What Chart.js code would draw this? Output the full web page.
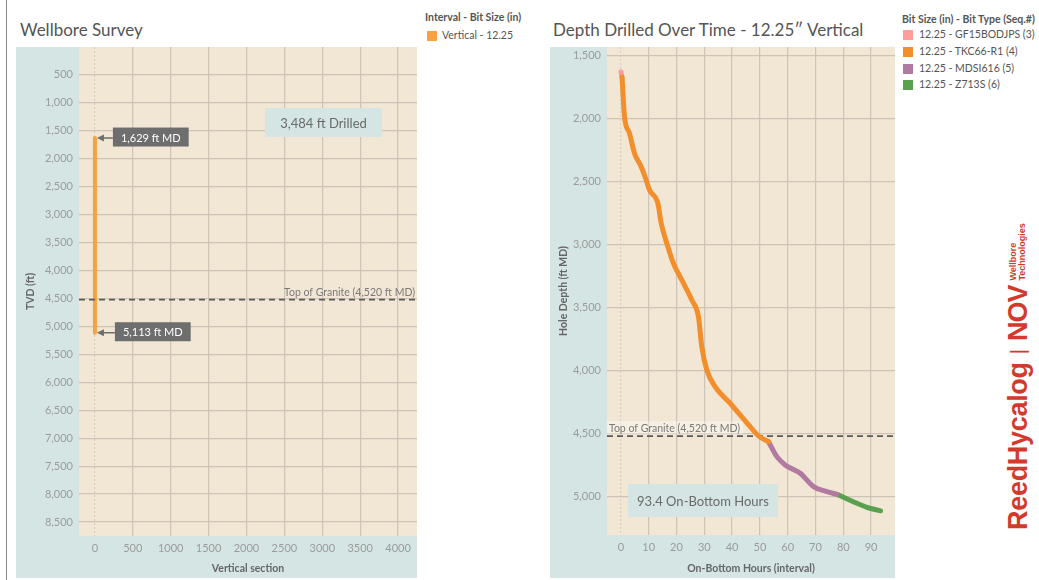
<!DOCTYPE html>
<html>
<head>
<meta charset="utf-8">
<script src="https://cdn.jsdelivr.net/npm/chart.js@4.4.1/dist/chart.umd.min.js"></script>
<style>
  body { margin: 0; width: 1039px; height: 580px; background: #fff; position: relative; overflow: hidden; font-family: Lato, sans-serif; }
  .abs { position: absolute; white-space: nowrap; }
  canvas { position: absolute; background: #d4e5e4; }
  .title { font-size: 17px; color: #555; }
  .lgHead { font-size: 10.5px; color: #555; font-weight: bold; }
  .lgItem { font-size: 10.5px; color: #555; }
  .sw { position: absolute; width: 10px; height: 10px; }
  #logo { left: 863px; top: 360px; width: 310px; height: 30px; transform: rotate(-90deg); transform-origin: center; color: #d23a2e; font-family: "Liberation Sans", Arial, sans-serif; display: flex; align-items: center; }
</style>
</head>
<body>
<div class="abs" style="left:6px;top:0;width:1px;height:580px;background:#8a8a8a"></div>

<div class="abs title" style="left:20px;top:19px">Wellbore Survey</div>
<div class="abs title" style="left:553px;top:19px">Depth Drilled Over Time - 12.25″ Vertical</div>

<canvas id="survey" width="401" height="531" style="left:16px;top:47px"></canvas>
<canvas id="depth" width="345" height="531" style="left:550px;top:47px"></canvas>

<div class="abs lgHead" style="left:425px;top:11px">Interval - Bit Size (in)</div>
<div class="sw" style="left:427px;top:31px;background:#f9a03f"></div>
<div class="abs lgItem" style="left:442px;top:29px">Vertical - 12.25</div>

<div class="abs lgHead" style="left:902px;top:13px">Bit Size (in) - Bit Type (Seq.#)</div>
<div class="sw" style="left:903px;top:30px;background:#ff9d9a"></div>
<div class="abs lgItem" style="left:919px;top:28px">12.25 - GF15BODJPS (3)</div>
<div class="sw" style="left:903px;top:47px;background:#f28e2b"></div>
<div class="abs lgItem" style="left:919px;top:45px">12.25 - TKC66-R1 (4)</div>
<div class="sw" style="left:903px;top:64px;background:#b07aa1"></div>
<div class="abs lgItem" style="left:919px;top:62px">12.25 - MDSI616 (5)</div>
<div class="sw" style="left:903px;top:80px;background:#59a14f"></div>
<div class="abs lgItem" style="left:919px;top:78px">12.25 - Z713S (6)</div>

<div class="abs" id="logo">
  <span style="font-size:27px;font-weight:bold;letter-spacing:-0.3px">ReedHycalog</span>
  <span style="font-size:20px;margin:0 8px">|</span>
  <span style="font-size:27px;font-weight:900;letter-spacing:-1px">NOV</span>
  <span style="font-size:9px;font-weight:bold;line-height:9px;margin-left:5px">Wellbore<br>Technologies</span>
</div>

<script>
// ---- Wellbore Survey data ----
const surveyVS = [0, 0];
const surveyTVD = [1629, 5113];
const vsTicks = [0, 500, 1000, 1500, 2000, 2500, 3000, 3500, 4000];
const tvdTicks = [500, 1000, 1500, 2000, 2500, 3000, 3500, 4000, 4500, 5000, 5500, 6000, 6500, 7000, 7500, 8000, 8500];
const graniteTop = 4520;

// ---- Depth drilled over time, one pair of arrays per bit run ----
const gfHours = [0, 0.4];
const gfDepth = [1629, 1668];
const tkcHours = [0.4, 1.3, 3.1, 4.9, 7.3, 9.1, 10.3, 13.3, 14.5, 16.9, 18.9, 21.9, 25.5, 27.9, 29.1, 30.9, 33.9, 39.3, 46.5, 49.6, 53.1];
const tkcDepth = [1668, 1984, 2116, 2275, 2381, 2487, 2566, 2672, 2830, 3016, 3148, 3280, 3439, 3572, 3810, 3995, 4127, 4259, 4445, 4520, 4564];
const mdsHours = [53.1, 56.1, 59.1, 64.5, 69.3, 74.1, 77.7];
const mdsDepth = [4564, 4683, 4749, 4815, 4921, 4961, 4982];
const zHours = [77.7, 83.6, 88.5, 93.4];
const zDepth = [4982, 5041, 5085, 5113];
const hourTicks = [0, 10, 20, 30, 40, 50, 60, 70, 80, 90];
const depthTicks = [1500, 2000, 2500, 3000, 3500, 4000, 4500, 5000];

Chart.defaults.font.family = 'Lato';
Chart.defaults.color = '#9b9b9b';

const beige = '#f2e7d5';
const gridCol = '#cdc4b8';

function pts(xs, ys) {
  return xs.map((x, i) => ({ x: x, y: ys[i] }));
}
function fmt(v) { return v.toLocaleString('en-US'); }

const plotBg = {
  id: 'plotBg',
  beforeDraw(chart) {
    const a = chart.chartArea, c = chart.ctx;
    c.save();
    c.fillStyle = beige;
    c.fillRect(a.left, a.top, a.right - a.left, a.bottom - a.top);
    c.restore();
  }
};

function graniteLine(chart) {
  const a = chart.chartArea, c = chart.ctx;
  const y = chart.scales.y.getPixelForValue(graniteTop);
  c.save();
  c.strokeStyle = '#5a5a5a';
  c.lineWidth = 1.6;
  c.setLineDash([6, 4]);
  c.beginPath(); c.moveTo(a.left, y); c.lineTo(a.right, y); c.stroke();
  c.restore();
  return y;
}

function textBox(c, x, y, w, h, text) {
  c.save();
  c.fillStyle = '#d4e5e4';
  c.fillRect(x, y, w, h);
  c.fillStyle = '#6a6a6a';
  c.font = '13px Lato';
  c.textAlign = 'center';
  c.textBaseline = 'middle';
  c.fillText(text, x + w / 2, y + h / 2 + 1);
  c.restore();
}

function callout(c, px, py, text, gap) {
  c.save();
  c.font = '11px Lato';
  const w = c.measureText(text).width + 16, h = 19;
  const bx = px + gap;
  c.fillStyle = '#6e6e6e';
  c.strokeStyle = '#6e6e6e';
  c.fillRect(bx, py - h / 2 - 1, w, h);
  c.lineWidth = 1.5;
  c.beginPath(); c.moveTo(bx, py); c.lineTo(px + 7, py); c.stroke();
  c.beginPath(); c.moveTo(px + 2, py); c.lineTo(px + 9, py - 3.5); c.lineTo(px + 9, py + 3.5); c.closePath(); c.fill();
  c.fillStyle = '#fff';
  c.textAlign = 'center';
  c.textBaseline = 'middle';
  c.fillText(text, bx + w / 2, py);
  c.restore();
}

const surveyNotes = {
  id: 'surveyNotes',
  afterDatasetsDraw(chart) {
    const a = chart.chartArea, c = chart.ctx;
    const sx = chart.scales.x, sy = chart.scales.y;
    const y = graniteLine(chart);
    c.save();
    c.font = '10.5px Lato';
    c.fillStyle = '#7a7a7a';
    c.textAlign = 'right';
    c.textBaseline = 'middle';
    c.fillText('Top of Granite (' + fmt(graniteTop) + ' ft MD)', a.right - 2, y - 7);
    c.restore();
    callout(c, sx.getPixelForValue(surveyVS[0]), sy.getPixelForValue(surveyTVD[0]), fmt(surveyTVD[0]) + ' ft MD', 18);
    callout(c, sx.getPixelForValue(surveyVS[1]), sy.getPixelForValue(surveyTVD[1]), fmt(surveyTVD[1]) + ' ft MD', 20);
    textBox(c, a.left + 186, a.top + 61, 117, 29, fmt(surveyTVD[1] - surveyTVD[0]) + ' ft Drilled');
  }
};

const depthNotes = {
  id: 'depthNotes',
  beforeDatasetsDraw(chart) {
    graniteLine(chart);
  },
  afterDatasetsDraw(chart) {
    const a = chart.chartArea, c = chart.ctx;
    const y = chart.scales.y.getPixelForValue(graniteTop);
    const label = 'Top of Granite (' + fmt(graniteTop) + ' ft MD)';
    c.save();
    c.font = '10.5px Lato';
    const w = c.measureText(label).width;
    c.fillStyle = 'rgba(255,255,255,0.35)';
    c.fillRect(a.left, y - 15, w + 5, 13);
    c.fillStyle = '#7a7a7a';
    c.textAlign = 'left';
    c.textBaseline = 'middle';
    c.fillText(label, a.left + 2, y - 8);
    c.restore();
    textBox(c, a.left + 21, a.top + 437, 150, 33, zHours[zHours.length - 1] + ' On-Bottom Hours');
  }
};

function axisSize(size, vertical) {
  return function (s) {
    if (vertical) s.width = size; else s.height = size;
    s.paddingTop = 0; s.paddingBottom = 0; s.paddingLeft = 0; s.paddingRight = 0;
  };
}
function useTicks(list) {
  return function (s) { s.ticks = list.map(v => ({ value: v })); };
}
const zeroDotted = {
  color: ctx => (ctx.tick && ctx.tick.value === 0) ? '#d9cfc2' : gridCol,
  lineWidth: 1.2,
  drawTicks: false
};
function axisTitle(text, pad) {
  return { display: true, text: text, color: '#666', font: { size: 10.5, weight: 'bold' }, padding: pad };
}

new Chart(document.getElementById('survey'), {
  type: 'scatter',
  data: {
    datasets: [{
      data: pts(surveyVS, surveyTVD),
      showLine: true,
      borderColor: '#f9a03f',
      borderWidth: 4,
      borderCapStyle: 'round',
      pointRadius: 0
    }]
  },
  options: {
    responsive: false,
    animation: false,
    layout: { padding: 0 },
    plugins: { legend: { display: false }, tooltip: { enabled: false } },
    scales: {
      x: {
        type: 'linear', min: -210, max: 4250,
        afterBuildTicks: useTicks(vsTicks),
        afterFit: axisSize(42, false),
        grid: zeroDotted,
        border: { display: false, dash: ctx => (ctx.tick && ctx.tick.value === 0) ? [2, 2] : [] },
        ticks: { padding: 6, font: { size: 11 }, callback: v => String(v) },
        title: axisTitle('Vertical section', { top: 0, bottom: 3 })
      },
      y: {
        type: 'linear', reverse: true, min: 0, max: 8750,
        afterBuildTicks: useTicks(tvdTicks),
        afterFit: axisSize(63, true),
        grid: { color: gridCol, lineWidth: 1.2, drawTicks: false },
        border: { display: false },
        ticks: { padding: 6, font: { size: 11 }, callback: v => fmt(v) },
        title: axisTitle('TVD (ft)', { top: 8, bottom: 0 })
      }
    }
  },
  plugins: [plotBg, surveyNotes]
});

function run(xs, ys, color) {
  return {
    data: pts(xs, ys),
    showLine: true,
    borderColor: color,
    borderWidth: 5,
    borderCapStyle: 'round',
    borderJoinStyle: 'round',
    cubicInterpolationMode: 'monotone',
    pointRadius: 0
  };
}

new Chart(document.getElementById('depth'), {
  type: 'scatter',
  data: {
    datasets: [
      run(tkcHours, tkcDepth, '#f28e2b'),
      run(mdsHours, mdsDepth, '#b07aa1'),
      run(zHours, zDepth, '#59a14f'),
      run(gfHours, gfDepth, '#ff9d9a')
    ]
  },
  options: {
    responsive: false,
    animation: false,
    layout: { padding: 0 },
    plugins: { legend: { display: false }, tooltip: { enabled: false } },
    scales: {
      x: {
        type: 'linear', min: -5, max: 98.6,
        afterBuildTicks: useTicks(hourTicks),
        afterFit: axisSize(43, false),
        grid: zeroDotted,
        border: { display: false, dash: ctx => (ctx.tick && ctx.tick.value === 0) ? [2, 2] : [] },
        ticks: { padding: 6, font: { size: 11 } },
        title: axisTitle('On-Bottom Hours (interval)', { top: 0, bottom: 3 })
      },
      y: {
        type: 'linear', reverse: true, min: 1430, max: 5305,
        afterBuildTicks: useTicks(depthTicks),
        afterFit: axisSize(57, true),
        grid: { color: gridCol, lineWidth: 1.2, drawTicks: false },
        border: { display: false },
        ticks: { padding: 6, font: { size: 11 }, callback: v => fmt(v) },
        title: axisTitle('Hole Depth (ft MD)', { top: 7, bottom: 0 })
      }
    }
  },
  plugins: [plotBg, depthNotes]
});
</script>
</body>
</html>
